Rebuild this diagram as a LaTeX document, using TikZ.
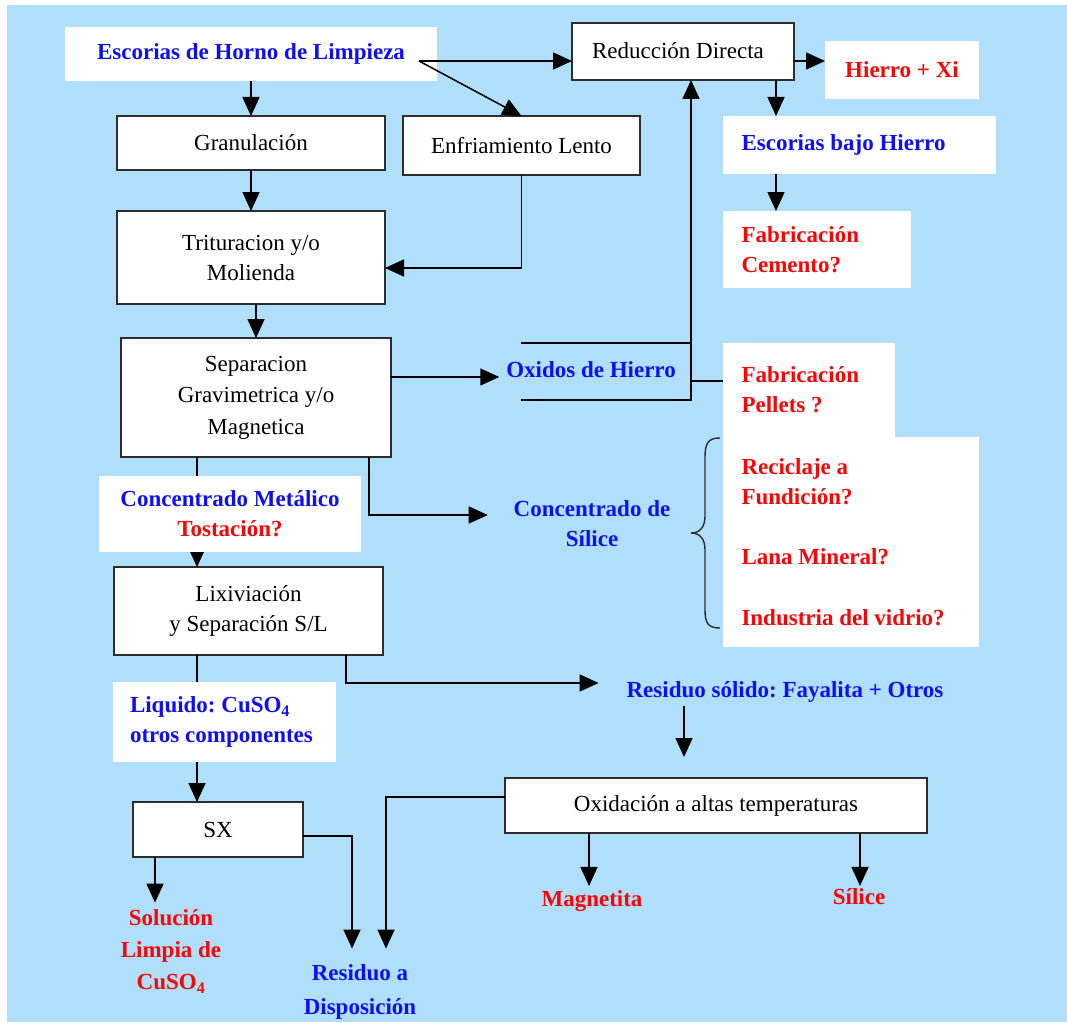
\documentclass[tikz,border=0pt]{standalone}
\usepackage{fontspec}
\setmainfont{Liberation Serif}
\usetikzlibrary{arrows.meta}
\definecolor{bgblue}{RGB}{175,223,250}
\definecolor{tblue}{RGB}{15,15,245}
\definecolor{tred}{RGB}{250,5,5}
\definecolor{edgec}{RGB}{45,45,45}
\frenchspacing
\begin{document}
\begin{tikzpicture}[x=1pt,y=-1pt,
  every node/.style={inner sep=0pt, outer sep=0pt, font=\fontsize{23}{30}\selectfont},
  procbox/.style={draw=edgec, line width=1.3pt, fill=white, align=center},
  wbox/.style={fill=white, align=center},
  lbox/.style={fill=white, align=flush left, inner xsep=18.5pt},
  bl/.style={text=tblue, font=\fontsize{23}{30}\selectfont\bfseries},
  rd/.style={text=tred, font=\fontsize{23}{30}\selectfont\bfseries},
  conn/.style={line width=1.5pt, draw=black},
  arr/.style={conn, -{Triangle[width=17pt,length=19pt]}},
]
\useasboundingbox (0,0) rectangle (1067,1022);
\fill[white] (0,0) rectangle (1067,1022);
\fill[bgblue] (7,5) rectangle (1067,1022);

% helper coordinates
\coordinate (x155) at (155,0);
\coordinate (x197) at (197,0);
\coordinate (x346) at (346,0);
\coordinate (x352) at (352,0);
\coordinate (x369) at (369,0);
\coordinate (x386) at (386,0);
\coordinate (x589) at (589,0);
\coordinate (x684) at (684,0);
\coordinate (x691) at (691,0);
\coordinate (x776) at (776,0);
\coordinate (x860) at (860,0);
\coordinate (y61) at (0,61);
\coordinate (y268) at (0,268);
\coordinate (y377) at (0,377);
\coordinate (y381) at (0,381);
\coordinate (y515) at (0,515);
\coordinate (y683) at (0,683);
\coordinate (y797) at (0,797);
\coordinate (y836) at (0,836);

% nodes
\node[wbox, bl, minimum width=372pt, minimum height=54pt] (esc) at (251,54) {Escorias de Horno de Limpieza};
\node[procbox, minimum width=268pt, minimum height=54pt] (gran) at (251,143) {Granulación};
\node[procbox, minimum width=268pt, minimum height=93pt] (trit) at (251,257.5) {Trituracion y/o\\Molienda};
\node[procbox, minimum width=237pt, minimum height=59pt] (enf) at (521.5,145.5) {Enfriamiento Lento};
\node[procbox, minimum width=222pt, minimum height=57pt, inner ysep=0pt] (red) at (683,51.5) {\raisebox{2pt}{Reducción Directa\hspace*{10pt}}};
\node[wbox, rd, minimum width=154pt, minimum height=58pt] (hierro) at (902,70) {Hierro + Xi};
\node[lbox, bl, text width=236pt, minimum width=273pt, minimum height=58pt] (ebh) at (859.5,145) {Escorias bajo Hierro};
\node[lbox, rd, text width=151pt, minimum width=188pt, minimum height=77pt] (cem) at (817,249.5) {Fabricación\\Cemento?};
\node[procbox, minimum width=270pt, minimum height=119pt, font=\fontsize{23}{31.5}\selectfont] (sep) at (256,397.5) {Separacion\\Gravimetrica y/o\\Magnetica};
\node[bl, align=center] (ox) at (591,370) {Oxidos de Hierro};
\node[lbox, rd, text width=135pt, minimum width=172pt, minimum height=94pt] (pel) at (809,390) {Fabricación\\Pellets ?};
\node[lbox, rd, text width=219pt, minimum width=256pt, minimum height=210pt] (usos) at (851,542) {Reciclaje a\\Fundición?\\[30pt]Lana Mineral?\\[31pt]Industria del vidrio?};
\node[bl, align=center] (sil) at (592,524) {Concentrado de\\Sílice};
\node[procbox, minimum width=269pt, minimum height=88pt] (lix) at (248.5,611) {Lixiviación\\y Separación S/L};
\node[bl, align=center] (res) at (785,692) {Residuo sólido: Fayalita + Otros};
\node[procbox, minimum width=170pt, minimum height=55pt] (sx) at (218,829.5) {SX};
\node[procbox, minimum width=422pt, minimum height=55pt] (oxd) at (716,805.5) {Oxidación a altas temperaturas};
\node[rd, align=center, font=\fontsize{23}{32}\selectfont\bfseries] (sol) at (171,951.5) {Solución\\Limpia de\\CuSO\textsubscript{4}};
\node[bl, align=center, font=\fontsize{23}{34}\selectfont\bfseries] (disp) at (360,992) {Residuo a\\Disposición};
\node[rd] (mag) at (592,901.5) {Magnetita};
\node[rd] (sili) at (859,897) {Sílice};

% connectors
\draw[arr] (esc.south) -- (gran.north);
\draw[arr] (gran.south) -- (trit.north);
\draw[arr] (trit.south -| sep.north) -- (sep.north);
\coordinate (escout) at (419,61);
\draw[arr] (escout) -- (escout -| red.west);
\draw[arr] (escout) -- (enf.north);
\draw[arr] (enf.south) |- (trit.east |- y268);
\draw[arr] (red.east |- y61) -- (hierro.west |- y61);
\draw[arr] (red.south -| x776) -- (ebh.north -| x776);
\draw[arr] (ebh.south -| x776) -- (cem.north -| x776);
\draw[arr, shorten >=7pt] (sep.east |- y377) -- (ox.west |- y377);
\draw[conn] (521,343) -- (691,343);
\draw[arr] (521,400) -- (691,400) -- (red.south -| x691);
\draw[conn] (x691 |- y381) -- (pel.west |- y381);
\draw[arr] (sep.south -| x197) -- (lix.north -| x197);
\draw[arr, shorten >=26pt] (sep.south -| x369) |- (sil.west |- y515);
\draw[arr, shorten >=28pt] (lix.south -| x346) |- (res.west |- y683);
\draw[arr] (lix.south -| x197) -- (sx.north -| x197);
\draw[arr, shorten <=4pt, shorten >=21pt] (res.south -| x684) -- (oxd.north -| x684);
\draw[arr, shorten >=16pt] (oxd.west |- y797) -| (disp.north -| x386);
\draw[arr, shorten >=16pt] (sx.east |- y836) -| (disp.north -| x352);
\draw[arr, shorten >=7pt] (sx.south -| x155) -- (sol.north -| x155);
\draw[arr, shorten >=5pt] (oxd.south -| x589) -- (mag.north -| x589);
\draw[arr, shorten >=3pt] (oxd.south -| x860) -- (sili.north -| x860);

% white label boxes drawn over the through-lines
\node[wbox, bl, minimum width=262pt, minimum height=76pt] (conc) at (230,514) {Concentrado Metálico\\{\color{tred}Tostación?}};
\node[lbox, bl, inner xsep=17pt, text width=189pt, minimum width=223pt, minimum height=80pt] (liq) at (224.5,722) {Liquido: CuSO\textsubscript{4}\\otros componentes};

% brace
\draw[edgec, line width=1.4pt] (720,438) .. controls (708,438) and (705,443) .. (705,458) -- (705,516) .. controls (705,527) and (700,533) .. (691,533) .. controls (700,533) and (705,539) .. (705,550) -- (705,610) .. controls (705,623) and (708,628) .. (720,628);
\end{tikzpicture}
\end{document}
